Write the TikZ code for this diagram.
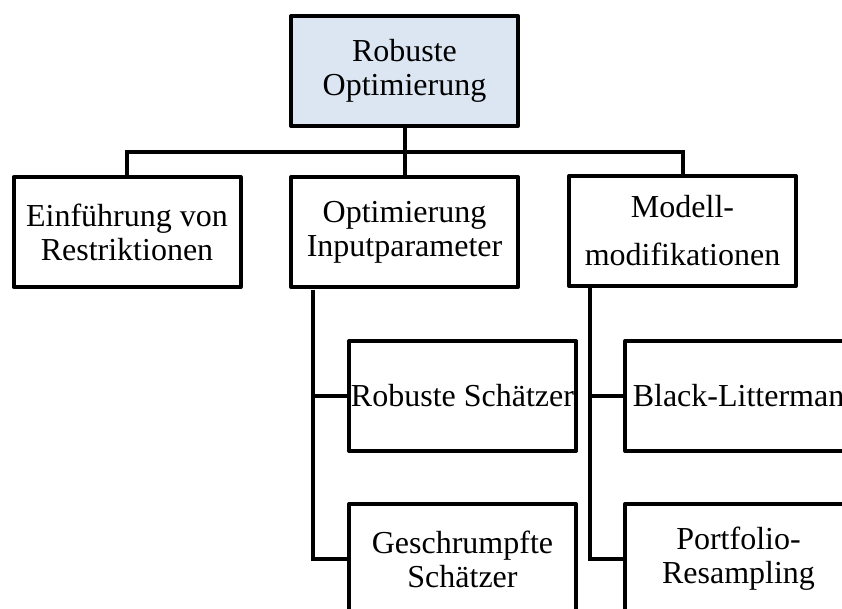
\documentclass[tikz,border=0pt]{standalone}
\usepackage{fontspec}
\setmainfont{Liberation Serif}

\begin{document}
\begin{tikzpicture}[x=1pt, y=-1pt]
\tikzset{boite/.style={draw, line width=4pt, line join=round, minimum width=227pt, minimum height=110pt, inner xsep=0pt, align=center, font=\fontsize{32}{34}\selectfont}}
\tikzset{lien/.style={line width=4pt}}
\useasboundingbox (0, 0) rectangle (842, 609);
\clip (0, 0) rectangle (842, 609);
\node[boite, fill={rgb,255:red,220;green,230;blue,242}] (R) at (404.5, 71) {Robuste\\Optimierung};
\node[boite] (E1) at (127, 232) {Einführung von\\Restriktionen};
\node[boite] (E2) at (404.5, 232) {Optimierung\\Inputparameter};
\node[boite] (E3) at (682.5, 231) {Modell-\\[14pt]modifikationen};
\node[boite] (S1) at (462.5, 396) {Robuste Schätzer};
\node[boite] (S2) at (462.5, 559) {Geschrumpfte\\Schätzer};
\node[boite] (S3) at (738.5, 396) {Black-Litterman};
\node[boite] (S4) at (738.5, 559) {Portfolio-\\Resampling};
\coordinate (bus) at (404.5, 152);
\coordinate (T2) at (313, 290);
\coordinate (T3) at (590, 288);
\draw[lien] (R.south) -- (E2.north);
\draw[lien] (E1.north) |- (bus -| E3.north) -- (E3.north);
\draw[lien] (T2) |- (S2.west);
\draw[lien] (T2 |- S1.west) -- (S1.west);
\draw[lien] (T3) |- (S4.west);
\draw[lien] (T3 |- S3.west) -- (S3.west);
\end{tikzpicture}
\end{document}
